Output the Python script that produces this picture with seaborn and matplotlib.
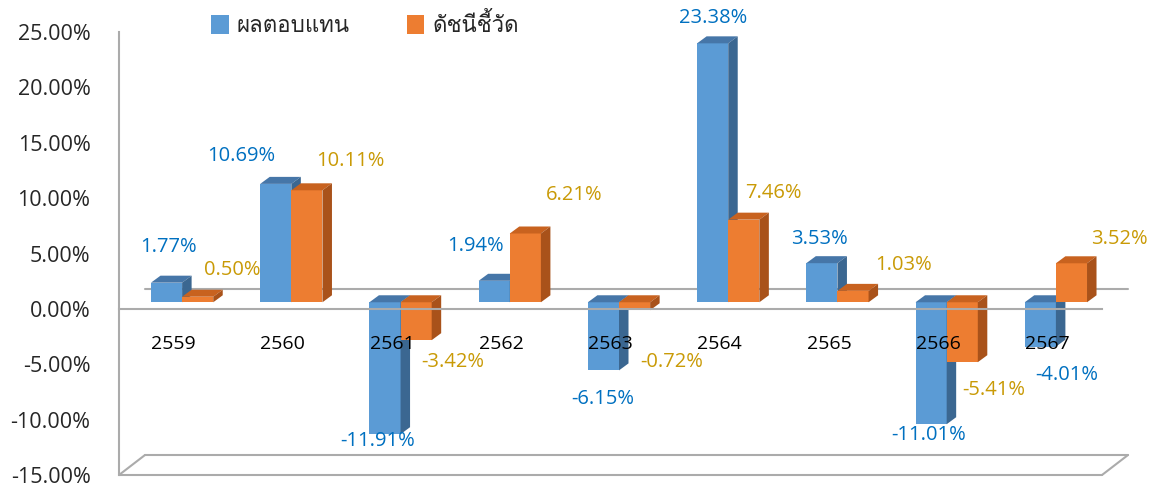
import matplotlib
matplotlib.use('Agg')
import matplotlib.pyplot as plt
import matplotlib.transforms as mtransforms
from matplotlib import font_manager
from matplotlib.ft2font import FT2Font
from matplotlib.patches import Polygon, Patch
from matplotlib.ticker import FuncFormatter
import seaborn as sns
import pandas as pd

## data
years = ['2559', '2560', '2561', '2562', '2563', '2564', '2565', '2566', '2567']
returns = [1.77, 10.69, -11.91, 1.94, -6.15, 23.38, 3.53, -11.01, -4.01]
benchmark = [0.50, 10.11, -3.42, 6.21, -0.72, 7.46, 1.03, -5.41, 3.52]
series_names = ['ผลตอบแทน', 'ดัชนีชี้วัด']
yticks = [-15, -10, -5, 0, 5, 10, 15, 20, 25]

## label placement (pixels from the bar's end, like Excel put them)
label_nudge = [
    [(2, 36), (-35, 28), (-7, -7), (-19, 35), (-1, -29), (0, 25), (-2, 24), (-2, -11), (26, -28)],
    [(35, 27), (43, 29), (37, -22), (49, 38), (37, -52), (30, 27), (51, 26), (32, -28), (48, 24)],
]

## colours
front_cols = ['#5B9BD5', '#ED7D31']
top_cols = ['#4676A8', '#C8621F']
side_cols = ['#3B6791', '#A9521A']
label_cols = ['#0070C0', '#C99A06']
GRAY = '#ABABAB'

sns.set_style('white')


## find a font that has Thai glyphs
def find_thai_font():
    for f in font_manager.fontManager.ttflist:
        try:
            if 0x0E1C in FT2Font(f.fname).get_charmap():
                return f.name
        except Exception:
            continue
    return None


thai = find_thai_font()
fams = ['Open Sans', 'DejaVu Sans']
if thai:
    fams = ['Open Sans', thai, 'DejaVu Sans']
plt.rcParams['font.family'] = fams

df = pd.DataFrame({
    'year': years * 2,
    'value': returns + benchmark,
    'series': [series_names[0]] * len(years) + [series_names[1]] * len(years),
})

W, H = 1161, 493
fig = plt.figure(figsize=(W / 100, H / 100), dpi=100)
ax_l, ax_r, ax_t, ax_b = 119, 1102, 32, 475
ax = fig.add_axes([ax_l / W, (H - ax_b) / H, (ax_r - ax_l) / W, (ax_b - ax_t) / H])

sns.barplot(data=df, x='year', y='value', hue='series', hue_order=series_names,
            palette=front_cols, width=0.57, saturation=1, linewidth=0,
            legend=False, ax=ax)
ax.set_xlim(-0.5, len(years) - 0.5)
ax.set_ylim(-15, 25)

# data units per pixel
ux = len(years) / (ax_r - ax_l)
uy = 40 / (ax_b - ax_t)

# 3D look: bars sit a little back, each with a top and a side face
shift = mtransforms.ScaledTranslation(8.5 / 100, 6.6 / 100, fig.dpi_scale_trans)
bar_trans = ax.transData + shift
ddx, ddy = 9.5 * ux, 7.0 * uy

for k, cont in enumerate(ax.containers):
    for i, p in enumerate(cont.patches):
        x0, w = p.get_x(), p.get_width()
        y0, h = p.get_y(), p.get_height()
        top, bot = max(y0, y0 + h), min(y0, y0 + h)
        x1 = x0 + w
        p.set_transform(bar_trans)
        p.set_zorder(1 + 0.1 * k)
        top_face = Polygon([(x0, top), (x1, top), (x1 + ddx, top + ddy), (x0 + ddx, top + ddy)],
                           closed=True, facecolor=top_cols[k], edgecolor='none',
                           transform=bar_trans, zorder=1 + 0.1 * k)
        side_face = Polygon([(x1, bot), (x1, top), (x1 + ddx, top + ddy), (x1 + ddx, bot + ddy)],
                            closed=True, facecolor=side_cols[k], edgecolor='none',
                            transform=bar_trans, zorder=1 + 0.1 * k)
        ax.add_patch(top_face)
        ax.add_patch(side_face)

        # value label
        v = y0 + h
        cx = x0 + w / 2
        lx, ly = label_nudge[k][i]
        ax.annotate(f'{v:.2f}%', xy=(cx, v), xytext=((8.5 + lx) * 0.72, (6.6 + ly) * 0.72),
                    textcoords='offset points', ha='center', va='center',
                    color=label_cols[k], fontsize=14.5, zorder=6)

## back wall zero line and floor
bx, by = 26 * ux, 20 * uy
xs = [-0.5, len(years) - 0.5]
ax.plot([xs[0] + bx, xs[1] + bx], [by, by], color=GRAY, lw=1.5, zorder=0.5, clip_on=False)
ax.plot(xs, [-15, -15], color=GRAY, lw=1.5, zorder=0.5, clip_on=False)
ax.plot([xs[0] + bx, xs[1] + bx], [-15 + by, -15 + by], color=GRAY, lw=1.5, zorder=0.5, clip_on=False)
ax.plot([xs[0], xs[0] + bx], [-15, -15 + by], color=GRAY, lw=1.5, zorder=0.5, clip_on=False)
ax.plot([xs[1], xs[1] + bx], [-15, -15 + by], color=GRAY, lw=1.5, zorder=0.5, clip_on=False)

## axes styling
for s in ['top', 'right']:
    ax.spines[s].set_visible(False)
ax.spines['left'].set_color(GRAY)
ax.spines['left'].set_linewidth(1.5)
ax.spines['bottom'].set_color(GRAY)
ax.spines['bottom'].set_linewidth(1.5)
ax.spines['bottom'].set_position(('data', 0))
ax.spines['bottom'].set_zorder(5)
ax.xaxis.set_zorder(4)

ax.set_yticks(yticks)
ax.yaxis.set_major_formatter(FuncFormatter(lambda v, _: f'{v:.2f}%'))
ax.tick_params(axis='y', length=6.5, width=1.4, color=GRAY, pad=14,
               labelsize=15.5, labelcolor='#262626')
ax.set_xticks(range(len(years)))
ax.set_xticklabels(years)
ax.set_xticks([i - 0.5 for i in range(len(years) + 1)], minor=True)
ax.tick_params(axis='x', which='major', length=0, pad=19, labelsize=14, labelcolor='black')
ax.tick_params(axis='x', which='minor', length=6, width=1.4, color=GRAY)
ax.set_xlabel('')
ax.set_ylabel('')

## legend
handles = [Patch(facecolor=front_cols[i], edgecolor='none', label=series_names[i]) for i in range(2)]
fig.legend(handles=handles, loc='center', bbox_to_anchor=(365 / W, 1 - 25 / H), ncol=2,
           frameon=False, fontsize=16, handlelength=0.78, handleheight=0.9,
           handletextpad=0.35, columnspacing=2.6)

fig.savefig('out.png', dpi=100)
